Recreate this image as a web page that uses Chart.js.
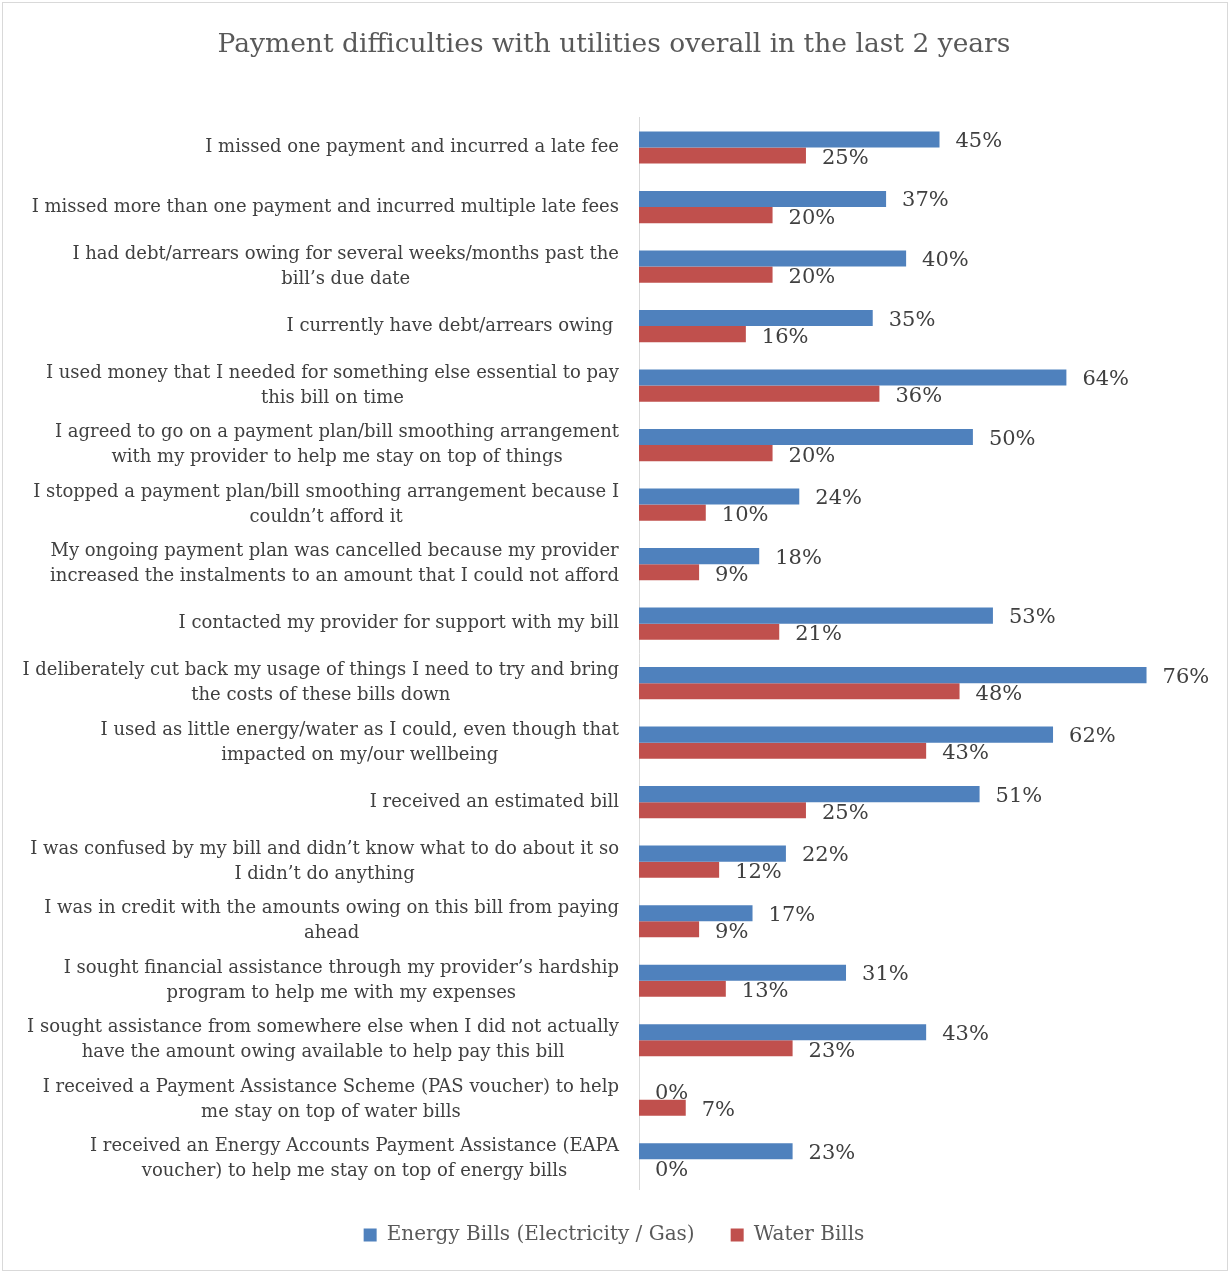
<!DOCTYPE html>
<html>
<head>
<meta charset="utf-8">
<script src="https://cdn.jsdelivr.net/npm/chart.js@4"></script>
<style>
  html, body { margin: 0; padding: 0; background: #fff; }
  #wrap { position: absolute; left: 2px; top: 2px; width: 1224px; height: 1267px; border: 1px solid #d9d9d9; }
  #wrap canvas { position: absolute; left: -3px; top: -3px; }
</style>
</head>
<body>
<div id="wrap"><canvas id="c" width="1228" height="1271"></canvas></div>
<script>
// categories (wrapped like the original)
const categories = [
  'I missed one payment and incurred a late fee',
  'I missed more than one payment and incurred multiple late fees',
  ['I had debt/arrears owing for several weeks/months past the', 'bill\u2019s due date'],
  'I currently have debt/arrears owing ',
  ['I used money that I needed for something else essential to pay', 'this bill on time'],
  ['I agreed to go on a payment plan/bill smoothing arrangement', 'with my provider to help me stay on top of things'],
  ['I stopped a payment plan/bill smoothing arrangement because I', 'couldn\u2019t afford it'],
  ['My ongoing payment plan was cancelled because my provider', 'increased the instalments to an amount that I could not afford'],
  'I contacted my provider for support with my bill',
  ['I deliberately cut back my usage of things I need to try and bring', 'the costs of these bills down'],
  ['I used as little energy/water as I could, even though that', 'impacted on my/our wellbeing'],
  'I received an estimated bill',
  ['I was confused by my bill and didn\u2019t know what to do about it so', 'I didn\u2019t do anything'],
  ['I was in credit with the amounts owing on this bill from paying', 'ahead'],
  ['I sought financial assistance through my provider\u2019s hardship', 'program to help me with my expenses'],
  ['I sought assistance from somewhere else when I did not actually', 'have the amount owing available to help pay this bill'],
  ['I received a Payment Assistance Scheme (PAS voucher) to help', 'me stay on top of water bills'],
  ['I received an Energy Accounts Payment Assistance (EAPA', 'voucher) to help me stay on top of energy bills']
];

const energyBills = [45, 37, 40, 35, 64, 50, 24, 18, 53, 76, 62, 51, 22, 17, 31, 43, 0, 23];
const waterBills  = [25, 20, 20, 16, 36, 20, 10, 9, 21, 48, 43, 25, 12, 9, 13, 23, 7, 0];

const FONT = "'DejaVu Serif', 'Liberation Serif', serif";

// category labels: block right aligned, lines centred inside the block
const catLabels = {
  id: 'catLabels',
  afterDraw(chart) {
    const ctx = chart.ctx;
    const y = chart.scales.y;
    ctx.save();
    ctx.font = '18px ' + FONT;
    ctx.fillStyle = '#404040';
    ctx.textAlign = 'center';
    ctx.textBaseline = 'middle';
    const right = y.right - 20;
    const lh = 25;
    categories.forEach((lab, i) => {
      const lines = Array.isArray(lab) ? lab : [lab];
      const w = Math.max(...lines.map(l => ctx.measureText(l).width));
      const cx = right - w / 2;
      const cy = y.getPixelForValue(i);
      lines.forEach((l, k) => {
        ctx.fillText(l, cx, cy + (k - (lines.length - 1) / 2) * lh);
      });
    });
    ctx.restore();
  }
};

// value labels after the bar ends
const valueLabels = {
  id: 'valueLabels',
  afterDatasetsDraw(chart) {
    const ctx = chart.ctx;
    ctx.save();
    ctx.font = '21px ' + FONT;
    ctx.fillStyle = '#404040';
    ctx.textAlign = 'left';
    ctx.textBaseline = 'middle';
    chart.data.datasets.forEach((ds, di) => {
      chart.getDatasetMeta(di).data.forEach((el, i) => {
        ctx.fillText(ds.data[i] + '%', el.x + 16, el.y + (di === 0 ? 2 : 3));
      });
    });
    ctx.restore();
  }
};

new Chart(document.getElementById('c'), {
  type: 'bar',
  data: {
    labels: categories,
    datasets: [
      { label: 'Energy Bills (Electricity / Gas)', data: energyBills, backgroundColor: '#4f81bd',
        categoryPercentage: 0.54, barPercentage: 1.0 },
      { label: 'Water Bills', data: waterBills, backgroundColor: '#c0504d',
        categoryPercentage: 0.54, barPercentage: 1.0 }
    ]
  },
  options: {
    indexAxis: 'y',
    responsive: false,
    animation: false,
    devicePixelRatio: 1,
    layout: { padding: { left: 0, right: 0, top: 0, bottom: 16 } },
    scales: {
      x: { display: false, min: 0, max: 88.2 },
      y: {
        grid: { display: false },
        border: { display: true, color: '#d9d9d9', width: 1 },
        ticks: { display: false },
        afterFit(scale) { scale.width = 639; }
      }
    },
    plugins: {
      title: {
        display: true,
        text: 'Payment difficulties with utilities overall in the last 2 years',
        color: '#595959',
        font: { family: FONT, size: 26.5, weight: 'normal' },
        padding: { top: 29, bottom: 57 }
      },
      legend: {
        position: 'bottom',
        labels: {
          color: '#595959',
          font: { family: FONT, size: 20 },
          boxWidth: 13, boxHeight: 13,
          padding: 36
        }
      },
      tooltip: { enabled: false }
    }
  },
  plugins: [catLabels, valueLabels]
});
</script>
</body>
</html>
